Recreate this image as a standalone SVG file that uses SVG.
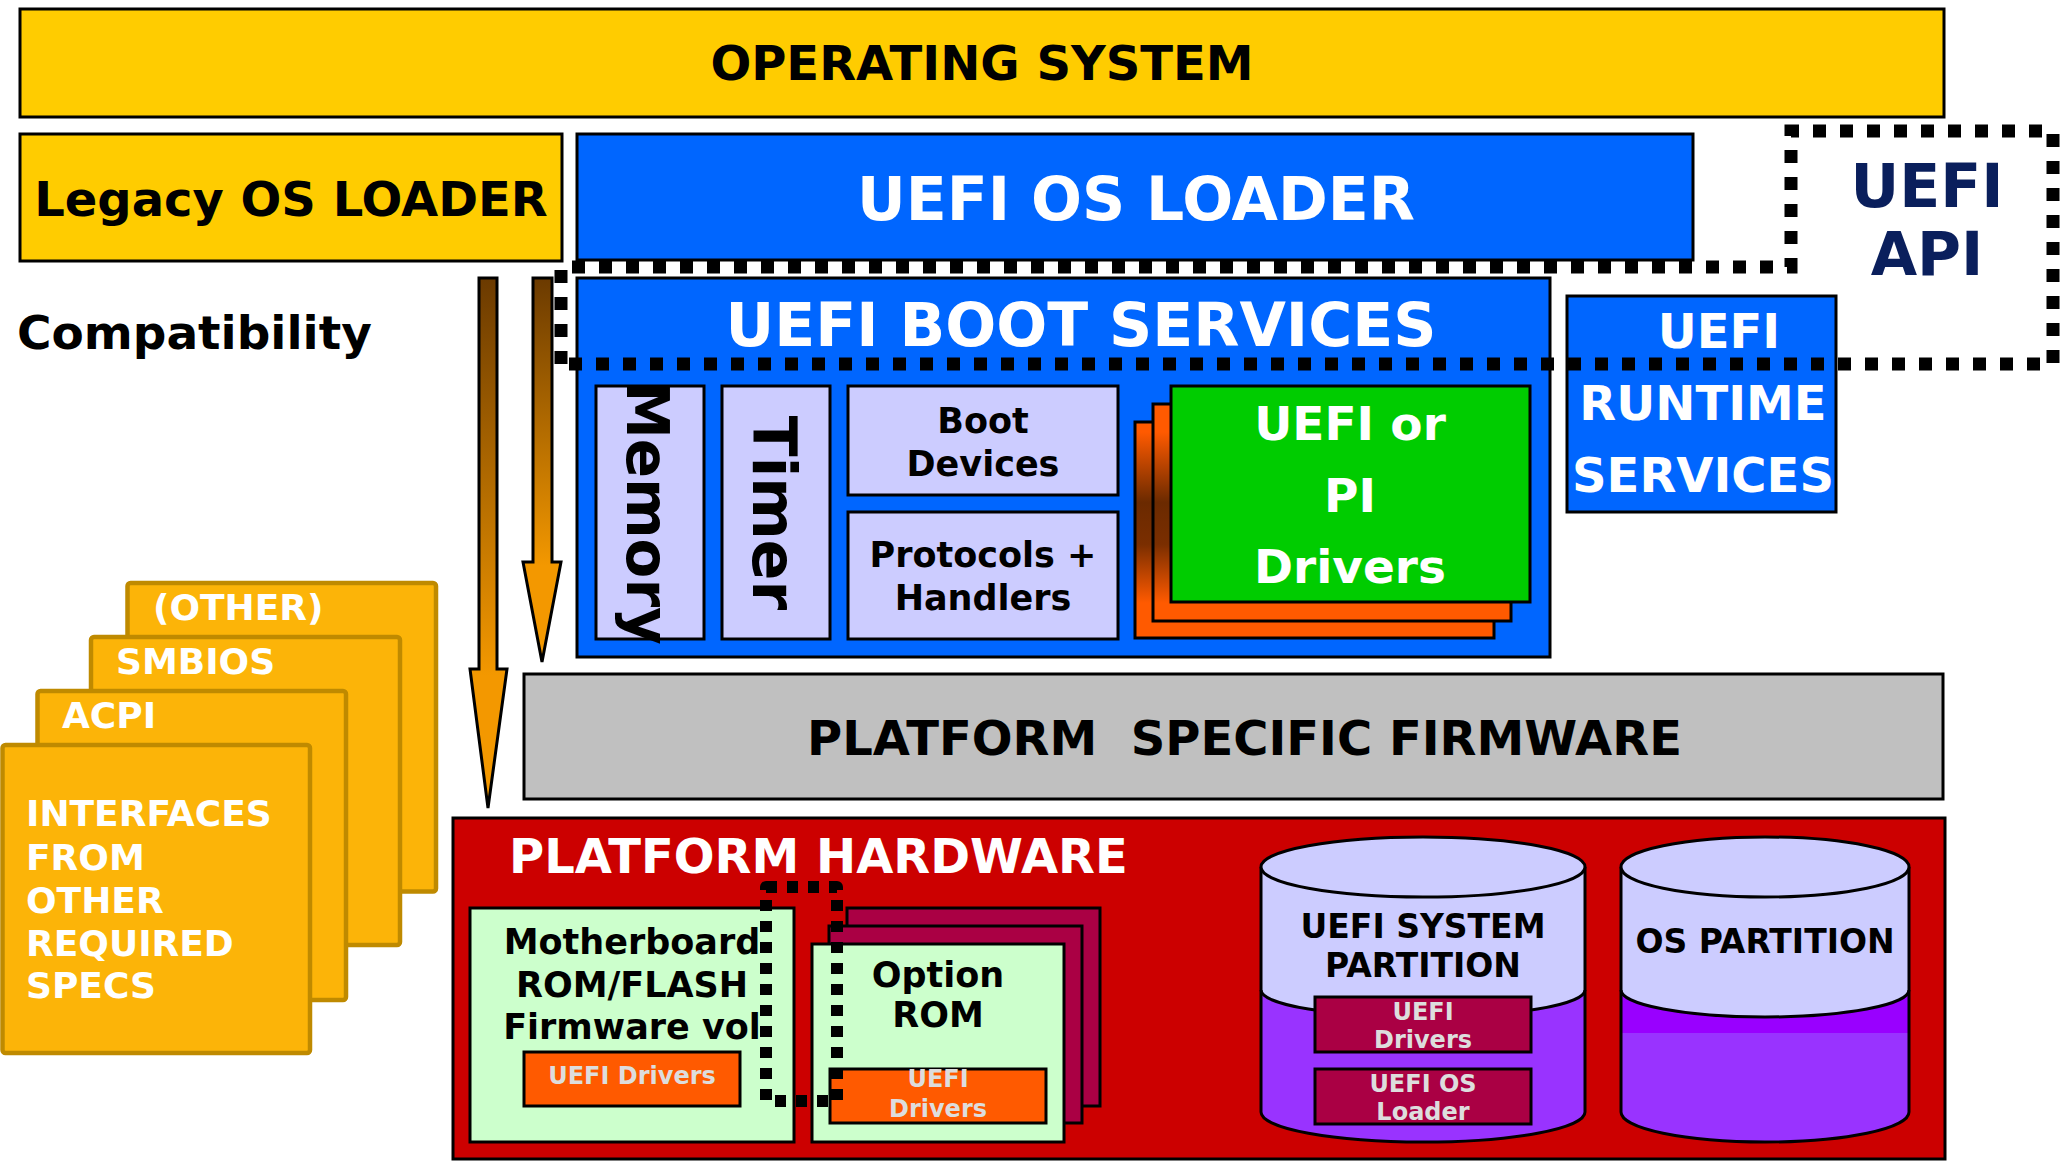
<svg xmlns="http://www.w3.org/2000/svg" width="2061" height="1161" viewBox="0 0 2061 1161">
<defs>
<style>
.t{font-family:"DejaVu Sans",Verdana,"Liberation Sans",sans-serif;font-weight:bold;}
.m{text-anchor:middle;}
.w{fill:#FFFFFF;}
.k{fill:#000000;}
.g{fill:#DDDDDD;font-size:24px;}
.b{stroke:#000;stroke-width:3;}
.card{fill:#FCB408;stroke:#BF8A00;stroke-width:4.5;}
.dot1{fill:none;stroke:#000;stroke-width:13;stroke-dasharray:13 14;}
.dot2{fill:none;stroke:#000;stroke-width:12;stroke-dasharray:11 10;stroke-linejoin:round;}
</style>
<linearGradient id="arrowGrad" x1="0" y1="0" x2="0" y2="1">
<stop offset="0" stop-color="#6B3A00"/>
<stop offset="0.75" stop-color="#F39800"/>
<stop offset="1" stop-color="#F39800"/>
</linearGradient>
<linearGradient id="stackGrad" gradientUnits="userSpaceOnUse" x1="0" y1="404" x2="0" y2="638">
<stop offset="0" stop-color="#FF5A00"/>
<stop offset="0.12" stop-color="#FF5A00"/>
<stop offset="0.42" stop-color="#6B2A00"/>
<stop offset="0.6" stop-color="#7A2E00"/>
<stop offset="0.85" stop-color="#FF5A00"/>
<stop offset="1" stop-color="#FF5A00"/>
</linearGradient>
</defs>
<rect width="2061" height="1161" fill="#FFFFFF"/>

<g id="operating-system">
<rect x="20" y="9" width="1924" height="108" fill="#FFCC00" class="b"/>
<text x="982" y="80" class="t m k" font-size="48">OPERATING SYSTEM</text>
</g>

<g id="legacy-os-loader">
<rect x="20" y="134" width="542" height="127" fill="#FFCC00" class="b"/>
<text x="291" y="216" class="t m k" font-size="48">Legacy OS LOADER</text>
</g>

<g id="uefi-os-loader">
<rect x="577" y="134" width="1116" height="126" fill="#0066FF" class="b"/>
<text x="1136" y="220" class="t m w" font-size="60">UEFI OS LOADER</text>
</g>

<g id="uefi-api">
<text x="1927" y="207" class="t m" font-size="60" fill="#0A1F5C">UEFI</text>
<text x="1927" y="275" class="t m" font-size="60" fill="#0A1F5C">API</text>
</g>

<g id="compatibility">
<text x="17" y="349" class="t k" font-size="47">Compatibility</text>
</g>

<g id="uefi-boot-services">
<rect x="577" y="278" width="973" height="379" fill="#0066FF" class="b"/>
<text x="1081" y="346" class="t m w" font-size="60">UEFI BOOT SERVICES</text>
</g>

<g id="memory">
<rect x="596" y="386" width="108" height="253" fill="#CCCCFF" class="b"/>
<text transform="translate(627,513) rotate(90)" class="t m k" font-size="58">Memory</text>
</g>

<g id="timer">
<rect x="722" y="386" width="108" height="253" fill="#CCCCFF" class="b"/>
<text transform="translate(753,513) rotate(90)" class="t m k" font-size="60">Timer</text>
</g>

<g id="boot-devices">
<rect x="848" y="386" width="270" height="109" fill="#CCCCFF" class="b"/>
<text x="983" y="433" class="t m k" font-size="35">Boot</text>
<text x="983" y="476" class="t m k" font-size="35">Devices</text>
</g>

<g id="protocols-handlers">
<rect x="848" y="512" width="270" height="127" fill="#CCCCFF" class="b"/>
<text x="983" y="567" class="t m k" font-size="35">Protocols +</text>
<text x="983" y="610" class="t m k" font-size="35">Handlers</text>
</g>

<g id="uefi-pi-drivers">
<rect x="1135" y="422" width="359" height="216" fill="url(#stackGrad)" class="b"/>
<rect x="1153" y="404" width="358" height="217" fill="url(#stackGrad)" class="b"/>
<rect x="1171" y="386" width="359" height="216" fill="#00CC00" class="b"/>
<text x="1350" y="440" class="t m w" font-size="47">UEFI or</text>
<text x="1350" y="512" class="t m w" font-size="47">PI</text>
<text x="1350" y="583" class="t m w" font-size="47">Drivers</text>
</g>

<g id="uefi-runtime-services">
<rect x="1567" y="296" width="269" height="216" fill="#0066FF" class="b"/>
<text x="1719" y="348" class="t m w" font-size="48">UEFI</text>
<text x="1703" y="420" class="t m w" font-size="48">RUNTIME</text>
<text x="1703" y="492" class="t m w" font-size="48">SERVICES</text>
</g>

<g id="platform-specific-firmware">
<rect x="524" y="674" width="1419" height="125" fill="#C0C0C0" class="b"/>
<text x="807" y="755" class="t k" font-size="48" xml:space="preserve" style="white-space:pre">PLATFORM  SPECIFIC FIRMWARE</text>
</g>

<g id="interfaces">
<rect x="127.5" y="583" width="308.5" height="308.5" rx="3" class="card"/>
<text x="153" y="620" class="t w" font-size="36">(OTHER)</text>
<rect x="91" y="637" width="309" height="308" rx="3" class="card"/>
<text x="116" y="674" class="t w" font-size="36">SMBIOS</text>
<rect x="37.5" y="691" width="308.5" height="309" rx="3" class="card"/>
<text x="62" y="728" class="t w" font-size="36">ACPI</text>
<rect x="2.5" y="745" width="307.5" height="308" rx="3" class="card"/>
<text x="26" y="826" class="t w" font-size="36">INTERFACES</text>
<text x="26" y="870" class="t w" font-size="36">FROM</text>
<text x="26" y="913" class="t w" font-size="36">OTHER</text>
<text x="26" y="956" class="t w" font-size="36">REQUIRED</text>
<text x="26" y="998" class="t w" font-size="36">SPECS</text>
</g>

<g id="platform-hardware">
<rect x="453" y="818" width="1492" height="341" fill="#CC0000" class="b"/>
<text x="509" y="873" class="t w" font-size="48">PLATFORM HARDWARE</text>
</g>

<g id="motherboard-rom">
<rect x="470" y="908" width="324" height="234" fill="#CCFFCC" class="b"/>
<text x="632" y="954" class="t m k" font-size="35">Motherboard</text>
<text x="632" y="997" class="t m k" font-size="35">ROM/FLASH</text>
<text x="632" y="1039" class="t m k" font-size="35">Firmware vol</text>
<rect x="524" y="1052" width="216" height="54" fill="#FF5A00" class="b"/>
<text x="632" y="1084" class="t m g">UEFI Drivers</text>
</g>

<g id="option-rom">
<rect x="847" y="908" width="253" height="198" fill="#AA0044" class="b"/>
<rect x="829" y="926" width="253" height="197" fill="#AA0044" class="b"/>
<rect x="812" y="944" width="252" height="198" fill="#CCFFCC" class="b"/>
<text x="938" y="987" class="t m k" font-size="35">Option</text>
<text x="938" y="1027" class="t m k" font-size="35">ROM</text>
<rect x="830" y="1069" width="216" height="54" fill="#FF5A00" class="b"/>
<text x="938" y="1087" class="t m g">UEFI</text>
<text x="938" y="1117" class="t m g">Drivers</text>
</g>

<g id="uefi-system-partition">
<path d="M1261,867 L1261,1112 A162,30 0 0,0 1585,1112 L1585,867 Z" fill="#9933FF"/>
<path d="M1261,867 L1261,990 A162,27 0 0,0 1585,990 L1585,867 Z" fill="#CCCCFF"/>
<path d="M1261,990 A162,27 0 0,0 1585,990" fill="none" class="b"/>
<path d="M1261,867 L1261,1112 A162,30 0 0,0 1585,1112 L1585,867" fill="none" class="b"/>
<ellipse cx="1423" cy="867" rx="162" ry="30" fill="#CCCCFF" class="b"/>
<text x="1423" y="938" class="t m k" font-size="33">UEFI SYSTEM</text>
<text x="1423" y="977" class="t m k" font-size="33">PARTITION</text>
<rect x="1315" y="997" width="216" height="55" fill="#AA0044" class="b"/>
<text x="1423" y="1020" class="t m g">UEFI</text>
<text x="1423" y="1048" class="t m g">Drivers</text>
<rect x="1315" y="1069" width="216" height="55" fill="#AA0044" class="b"/>
<text x="1423" y="1092" class="t m g">UEFI OS</text>
<text x="1423" y="1120" class="t m g">Loader</text>
</g>

<g id="os-partition">
<path d="M1621,867 L1621,1112 A144,30 0 0,0 1909,1112 L1909,867 Z" fill="#9933FF"/>
<rect x="1621" y="985" width="288" height="48" fill="#9900FF"/>
<path d="M1621,867 L1621,990 A144,27 0 0,0 1909,990 L1909,867 Z" fill="#CCCCFF"/>
<path d="M1621,990 A144,27 0 0,0 1909,990" fill="none" class="b"/>
<path d="M1621,867 L1621,1112 A144,30 0 0,0 1909,1112 L1909,867" fill="none" class="b"/>
<ellipse cx="1765" cy="867" rx="144" ry="30" fill="#CCCCFF" class="b"/>
<text x="1765" y="953" class="t m k" font-size="33">OS PARTITION</text>
</g>

<g id="connectors">
<polygon points="479,278 497,278 497,669 507,669 488,808 470,669 479,669" fill="url(#arrowGrad)" class="b"/>
<polygon points="533,278 552,278 552,562 561,562 542,662 523,562 533,562" fill="url(#arrowGrad)" class="b"/>
</g>

<g id="dotted-outlines">
<path class="dot1" d="M561,364 L561,267 L1791,267 L1791,131 L2053,131 L2053,364 Z"/>
<rect class="dot2" x="766" y="887" width="71" height="214"/>
</g>
</svg>
